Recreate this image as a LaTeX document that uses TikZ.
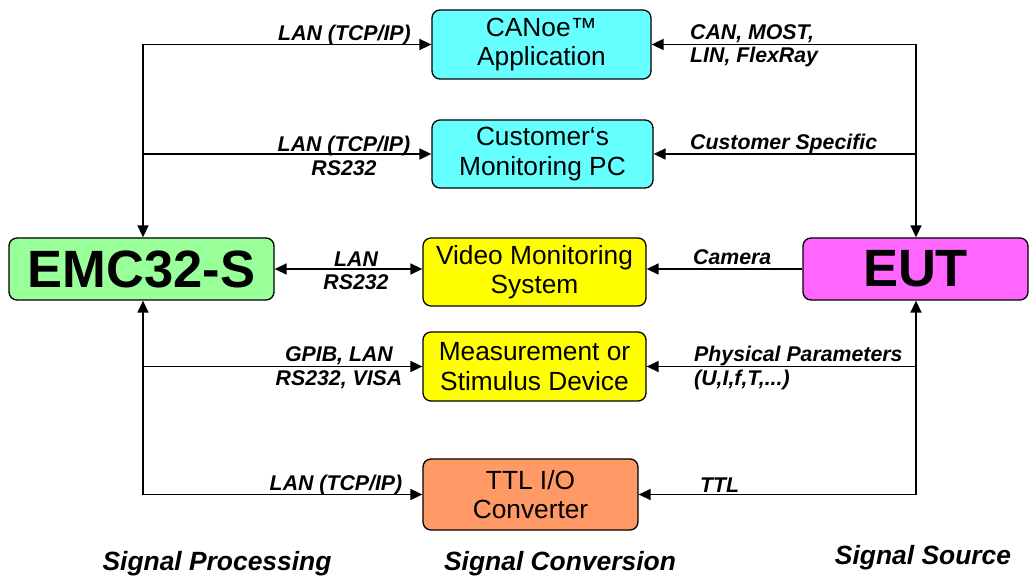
\documentclass[tikz,border=0pt]{standalone}
\usepackage{fontspec}
\setmainfont{Liberation Sans}
\usetikzlibrary{arrows.meta}
\definecolor{cyanc}{HTML}{66FFFF}
\definecolor{yellowc}{HTML}{FFFF00}
\definecolor{orangec}{HTML}{FF9966}
\definecolor{greenc}{HTML}{99FF99}
\definecolor{magentac}{HTML}{FF66FF}
\begin{document}
\begin{tikzpicture}[x=1pt,y=-1pt,
  box/.style={draw=black, line width=1.3pt, rounded corners=8pt, align=center, inner sep=0pt,
    font=\fontsize{26.3}{29.5}\selectfont, execute at begin node={\rule{0pt}{30pt}}},
  bigbox/.style={draw=black, line width=1.3pt, rounded corners=8pt, align=center, inner sep=0pt,
    font=\fontsize{52.5}{56}\selectfont\bfseries},
  conn/.style={line width=1.6pt, -{Triangle[length=12pt,width=11pt]}},
  conn2/.style={line width=1.6pt, {Triangle[length=12pt,width=11pt]}-{Triangle[length=12pt,width=11pt]}},
  lab/.style={inner sep=0pt, font=\fontsize{21.3}{23.5}\selectfont\bfseries\itshape},
  foot/.style={inner sep=0pt, font=\fontsize{26.4}{30}\selectfont\bfseries\itshape}]
\useasboundingbox (0,0) rectangle (1031,577);

% boxes
\node[box, fill=cyanc, minimum width=219pt, minimum height=69pt] (canoe) at (541.5,44.5) {CANoe™\\Application};
\node[box, fill=cyanc, minimum width=221pt, minimum height=68pt] (custpc) at (542.5,154) {Customer‘s\\Monitoring PC};
\node[box, fill=yellowc, minimum width=223pt, minimum height=68pt] (video) at (534.5,272) {Video Monitoring\\System};
\node[box, fill=yellowc, minimum width=223pt, minimum height=69pt] (meas) at (534.5,366.5) {Measurement or\\Stimulus Device};
\node[box, fill=orangec, minimum width=215pt, minimum height=71pt] (ttl) at (530.5,494.5) {TTL I/O\\Converter};
\node[bigbox, fill=greenc, minimum width=265pt, minimum height=62pt] (emc) at (141.5,269) {EMC32-S};
\node[bigbox, fill=magentac, minimum width=225pt, minimum height=62pt] (eut) at (915.5,269) {EUT};

% corner coordinates
\coordinate (lt) at (143,44.5);
\coordinate (lb) at (143,494.5);
\coordinate (rt) at (916,44.5);
\coordinate (rb) at (916,494.5);

% left side
\draw[conn] (lt) -- (canoe.west);
\draw[conn] (lt) -- (lt |- emc.north);
\draw[conn] (lt |- custpc) -- (custpc.west);
\draw[conn] (lb) -- (lb |- emc.south);
\draw[conn] (lb |- meas) -- (meas.west);
\draw[conn] (lb) -- (ttl.west);
\draw[conn2] (emc.east) -- (video.west |- emc.east);

% right side
\draw[conn] (rt) -- (canoe.east);
\draw[conn] (rt) -- (rt |- eut.north);
\draw[conn] (rt |- custpc) -- (custpc.east);
\draw[conn] (rb) -- (rb |- eut.south);
\draw[conn] (rb |- meas) -- (meas.east);
\draw[conn] (rb) -- (ttl.east);
\draw[conn] (eut.west) -- (video.east |- eut.west);

% labels left
\node[lab] (l1) at (344.5,35) {LAN (TCP/IP)};
\node[lab, align=center] (l2) at (344,156) {LAN (TCP/IP)\\RS232};
\node[lab, align=center] (l3) at (356,271) {LAN\\RS232};
\node[lab, align=center] (l4) at (339,367.5) {GPIB, LAN\\RS232, VISA};
\node[lab] (l5) at (336,485) {LAN (TCP/IP)};

% labels right
\node[lab, align=left, anchor=west] (r1) at (690,46) {CAN, MOST,\\LIN, FlexRay};
\node[lab, anchor=west] (r2) at (690,144) {Customer Specific};
\node[lab, anchor=west] (r3) at (693,257) {Camera};
\node[lab, align=left, anchor=west] (r4) at (694,368) {Physical Parameters\\(U,I,f,T,...)};
\node[lab, anchor=west] (r5) at (700,485) {TTL};

% footer
\node[foot] (f1) at (217,564) {Signal Processing};
\node[foot] (f2) at (560,564) {Signal Conversion};
\node[foot] (f3) at (923,558) {Signal Source};
\end{tikzpicture}
\end{document}
